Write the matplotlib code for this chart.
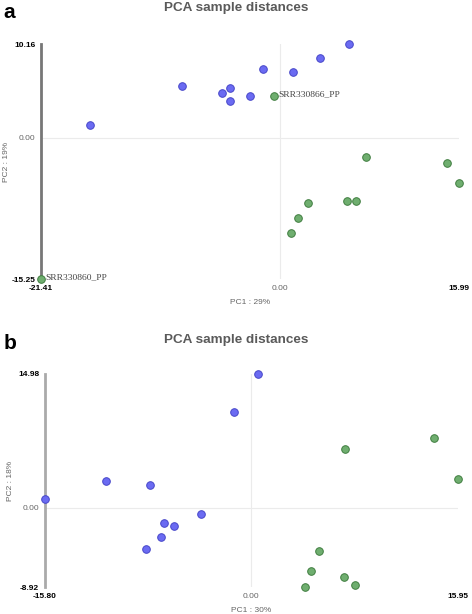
import matplotlib
matplotlib.use("Agg")
import matplotlib.pyplot as plt

plt.rcParams['font.family'] = ['Liberation Sans', 'DejaVu Sans']

# -----------------------------
# DATI PANNELLO A
# -----------------------------
a_blue_x = [-17.07, -8.82, -5.24, -4.53, -4.47, -2.74, -1.55, 1.16, 3.55, 6.14]
a_blue_y = [1.41, 5.59, 4.87, 5.41, 3.97, 4.54, 7.46, 7.10, 8.65, 10.16]
a_green_x = [-0.54, -21.41, 7.63, 14.87, 15.99, 5.99, 6.79, 2.44, 1.55, 0.98]
a_green_y = [4.58, -15.25, -2.05, -2.67, -4.83, -6.85, -6.85, -7.03, -8.65, -10.31]
a_labels = {0: 'SRR330866_PP', 1: 'SRR330860_PP'}
a_xlim = (-21.41, 15.99)
a_ylim = (-15.25, 10.16)

# -----------------------------
# DATI PANNELLO B
# -----------------------------
b_blue_x = [-15.80, -11.08, -7.75, -3.81, -6.63, -5.88, -6.91, -8.01, -1.30, 0.61]
b_blue_y = [1.01, 3.02, 2.54, -0.67, -1.76, -2.05, -3.25, -4.63, 10.72, 14.98]
b_green_x = [14.10, 7.24, 15.95, 5.22, 4.66, 7.14, 8.01, 4.20]
b_green_y = [7.77, 6.57, 3.21, -4.82, -7.06, -7.73, -8.63, -8.92]
b_xlim = (-15.80, 15.95)
b_ylim = (-8.92, 14.98)

BLUE = '#6b6bf2'
BLUE_EDGE = '#4646c8'
GREEN = '#6fae6f'
GREEN_EDGE = '#3f7d3f'


def pannello(ax, bx, by, gx, gy, xlim, ylim, xlab, ylab, spine_col, ylabpad, labels=None):
    ax.set_xlim(*xlim)
    ax.set_ylim(*ylim)
    for s in ax.spines.values():
        s.set_visible(False)
    ax.spines['left'].set_visible(True)
    ax.spines['left'].set_color(spine_col)
    ax.spines['left'].set_linewidth(2)
    ax.axhline(0, color='#ebebeb', lw=0.8, zorder=0)
    ax.axvline(0, color='#ebebeb', lw=0.8, zorder=0)

    ax.scatter(bx, by, s=30, color=BLUE, edgecolors=BLUE_EDGE, linewidths=0.7, zorder=3, clip_on=False)
    ax.scatter(gx, gy, s=30, color=GREEN, edgecolors=GREEN_EDGE, linewidths=0.7, zorder=3, clip_on=False)
    if labels:
        for i, txt in labels.items():
            ax.annotate(txt, (gx[i], gy[i]), xytext=(3, 1), textcoords='offset points',
                        fontsize=6.8, family='Liberation Serif', color='#444444', va='center')

    ax.set_xticks([xlim[0], 0, xlim[1]])
    ax.set_xticklabels(['%.2f' % xlim[0], '0.00', '%.2f' % xlim[1]])
    ax.set_yticks([ylim[0], 0, ylim[1]])
    ax.set_yticklabels(['%.2f' % ylim[0], '0.00', '%.2f' % ylim[1]])
    ax.tick_params(length=0, labelsize=6, pad=4)
    for lbls in (ax.get_xticklabels(), ax.get_yticklabels()):
        lbls[0].set_fontweight('bold')
        lbls[2].set_fontweight('bold')
        lbls[1].set_color('#666666')
    ax.set_xlabel(xlab, fontsize=6, color='#666666', labelpad=5)
    ax.set_ylabel(ylab, fontsize=6, color='#666666', labelpad=ylabpad)


fig = plt.figure(figsize=(4.72, 6.14), dpi=100)

ax1 = fig.add_axes([0.0869, 0.5456, 0.8856, 0.3827])
pannello(ax1, a_blue_x, a_blue_y, a_green_x, a_green_y, a_xlim, a_ylim,
         'PC1 : 29%', 'PC2 : 19%', '#777777', 1, a_labels)
fig.text(0.5, 0.987, 'PCA sample distances', ha='center', va='center',
         fontsize=9.7, fontweight='bold', color='#5a5a5a')
fig.text(0.008, 0.979, 'a', ha='left', va='center', fontsize=15, fontweight='bold')

ax2 = fig.add_axes([0.0947, 0.0435, 0.8763, 0.3474])
pannello(ax2, b_blue_x, b_blue_y, b_green_x, b_green_y, b_xlim, b_ylim,
         'PC1 : 30%', 'PC2 : 18%', '#aaaaaa', 3)
fig.text(0.5, 0.446, 'PCA sample distances', ha='center', va='center',
         fontsize=9.7, fontweight='bold', color='#5a5a5a')
fig.text(0.008, 0.441, 'b', ha='left', va='center', fontsize=15, fontweight='bold')

fig.savefig('out.png', dpi=100)
